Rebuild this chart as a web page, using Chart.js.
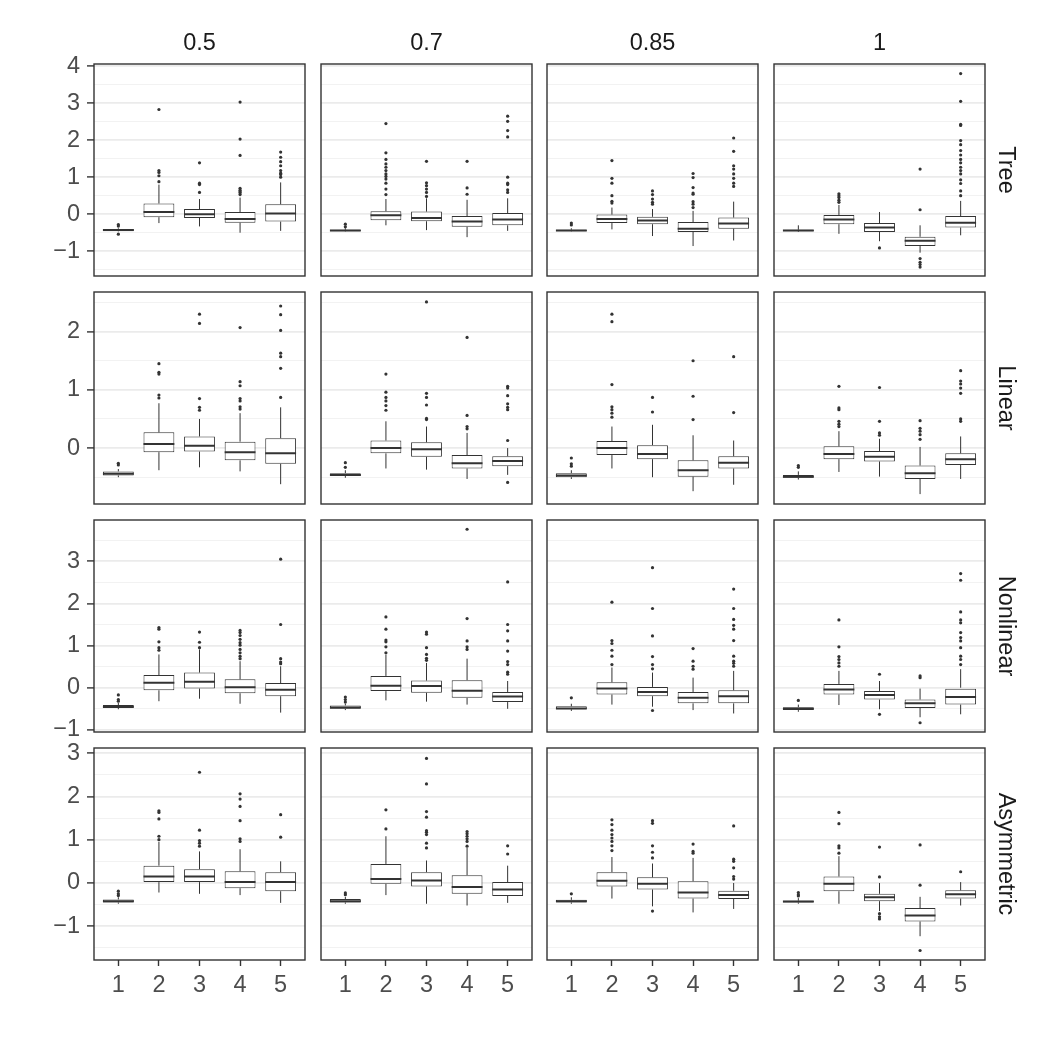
<!DOCTYPE html>
<html>
<head>
<meta charset="utf-8">
<script src="https://cdn.jsdelivr.net/npm/chart.js@4.4.1/dist/chart.umd.min.js"></script>
<style>
  html, body { margin: 0; padding: 0; background: #fff; }
  #wrap { position: relative; width: 1050px; height: 1050px; overflow: hidden;
          font-family: "Liberation Sans", Arial, Helvetica, sans-serif; }
  #wrap canvas { position: absolute; }
  .strip { position: absolute; font-size: 23.5px; line-height: 24px; height: 24px;
           color: #1a1a1a; text-align: center; white-space: nowrap; }
</style>
</head>
<body>
<div id="wrap"></div>
<script>
'use strict';

// ── Data ─────────────────────────────────────────────────────────────────────

const alphas = ['0.5', '0.7', '0.85', '1'];
const models = ['Tree', 'Linear', 'Nonlinear', 'Asymmetric'];
const groups = [1, 2, 3, 4, 5];

// each stat array: one row per column (0.5, 0.7, 0.85, 1), one value per group 1..5

const treeRange = [-1.67, 4.06];
const treeMajor = [-1, 0, 1, 2, 3, 4];
const treeMinor = [-1.5, -0.5, 0.5, 1.5, 2.5, 3.5];
const treeLow = [
  [-0.47, -0.24, -0.33, -0.50, -0.45],
  [-0.47, -0.30, -0.43, -0.62, -0.45],
  [-0.47, -0.41, -0.59, -0.86, -0.71],
  [-0.48, -0.53, -0.73, -1.04, -0.57],
];
const treeQ1 = [
  [-0.46, -0.08, -0.10, -0.23, -0.20],
  [-0.46, -0.16, -0.19, -0.34, -0.30],
  [-0.46, -0.24, -0.27, -0.48, -0.39],
  [-0.46, -0.27, -0.48, -0.86, -0.36],
];
const treeMed = [
  [-0.43, 0.06, 0.00, -0.13, 0.02],
  [-0.44, -0.03, -0.10, -0.20, -0.14],
  [-0.44, -0.13, -0.17, -0.39, -0.25],
  [-0.44, -0.14, -0.36, -0.72, -0.23],
];
const treeQ3 = [
  [-0.40, 0.29, 0.14, 0.06, 0.27],
  [-0.42, 0.08, 0.07, -0.05, 0.03],
  [-0.42, -0.01, -0.07, -0.21, -0.09],
  [-0.42, -0.02, -0.24, -0.61, -0.05],
];
const treeHigh = [
  [-0.38, 0.80, 0.41, 0.45, 0.86],
  [-0.38, 0.41, 0.43, 0.39, 0.43],
  [-0.38, 0.18, 0.14, 0.09, 0.34],
  [-0.30, 0.25, 0.06, -0.30, 0.36],
];
const treeOut = [
  [[-0.54, -0.32, -0.28], [0.88, 1.04, 1.13, 1.18, 2.83], [0.59, 0.80, 0.84, 1.39],
   [0.53, 0.58, 0.61, 0.65, 0.70, 1.59, 2.03, 3.03], [1.00, 1.07, 1.11, 1.18, 1.31, 1.42, 1.54, 1.68]],
  [[-0.34, -0.27], [0.53, 0.68, 0.84, 0.95, 1.02, 1.09, 1.18, 1.27, 1.36, 1.48, 1.66, 2.45],
   [0.48, 0.59, 0.68, 0.77, 0.85, 1.43], [0.54, 0.71, 1.43],
   [0.59, 0.66, 0.80, 0.84, 1.00, 2.09, 2.26, 2.51, 2.65]],
  [[-0.29, -0.24], [0.30, 0.35, 0.50, 0.84, 0.97, 1.45], [0.27, 0.32, 0.41, 0.53, 0.63],
   [0.18, 0.27, 0.34, 0.54, 0.57, 0.72, 0.99, 1.10], [0.75, 0.84, 0.97, 1.09, 1.22, 1.31, 1.70, 2.06]],
  [[], [0.32, 0.38, 0.45, 0.50, 0.55], [-0.91], [0.12, 1.22, -1.20, -1.30, -1.36, -1.43],
   [0.50, 0.63, 0.83, 0.93, 1.09, 1.18, 1.27, 1.39, 1.48, 1.60, 1.72, 1.88, 1.99, 2.40, 2.43, 3.05, 3.80]],
];

const linearRange = [-0.96, 2.68];
const linearMajor = [0, 1, 2];
const linearMinor = [-0.5, 0.5, 1.5, 2.5];
const linearLow = [
  [-0.50, -0.38, -0.33, -0.40, -0.62],
  [-0.51, -0.35, -0.37, -0.53, -0.46],
  [-0.53, -0.35, -0.50, -0.74, -0.63],
  [-0.54, -0.41, -0.49, -0.79, -0.53],
];
const linearQ1 = [
  [-0.47, -0.07, -0.06, -0.21, -0.27],
  [-0.48, -0.09, -0.15, -0.35, -0.31],
  [-0.50, -0.12, -0.19, -0.49, -0.35],
  [-0.51, -0.19, -0.23, -0.53, -0.29],
];
const linearMed = [
  [-0.44, 0.07, 0.04, -0.07, -0.09],
  [-0.46, 0.00, -0.02, -0.26, -0.22],
  [-0.47, 0.00, -0.10, -0.38, -0.25],
  [-0.49, -0.10, -0.15, -0.43, -0.19],
];
const linearQ3 = [
  [-0.40, 0.27, 0.20, 0.11, 0.17],
  [-0.43, 0.13, 0.10, -0.12, -0.14],
  [-0.43, 0.12, 0.05, -0.21, -0.14],
  [-0.46, 0.03, -0.05, -0.30, -0.09],
];
const linearHigh = [
  [-0.36, 0.77, 0.50, 0.60, 0.70],
  [-0.38, 0.46, 0.37, 0.26, 0.00],
  [-0.38, 0.37, 0.40, 0.22, 0.13],
  [-0.40, 0.29, 0.16, 0.02, 0.20],
];
const linearOut = [
  [[-0.29, -0.26], [0.86, 0.91, 1.27, 1.30, 1.45], [0.65, 0.70, 0.85, 2.14, 2.30],
   [0.67, 0.71, 0.81, 0.85, 1.07, 1.14, 2.07], [0.87, 1.37, 1.57, 1.63, 2.02, 2.29, 2.44]],
  [[-0.33, -0.25], [0.65, 0.73, 0.81, 0.87, 0.96, 1.27], [0.49, 0.51, 0.74, 0.87, 0.94, 2.51],
   [0.33, 0.37, 0.56, 1.90], [-0.59, 0.13, 0.66, 0.70, 0.76, 0.90, 1.03, 1.06]],
  [[-0.31, -0.27, -0.17], [0.53, 0.60, 0.66, 0.71, 1.09, 2.17, 2.30], [0.62, 0.87],
   [0.49, 0.89, 1.50], [0.61, 1.57]],
  [[-0.33, -0.30], [0.37, 0.41, 0.46, 0.66, 0.69, 1.06], [0.22, 0.26, 0.46, 1.04],
   [0.15, 0.23, 0.29, 0.34, 0.47], [0.46, 0.50, 0.94, 1.03, 1.10, 1.15, 1.33]],
];

const nonlinRange = [-1.05, 3.98];
const nonlinMajor = [-1, 0, 1, 2, 3];
const nonlinMinor = [-0.5, 0.5, 1.5, 2.5, 3.5];
const nonlinLow = [
  [-0.51, -0.32, -0.26, -0.38, -0.59],
  [-0.53, -0.30, -0.33, -0.40, -0.50],
  [-0.55, -0.40, -0.45, -0.53, -0.61],
  [-0.57, -0.41, -0.51, -0.70, -0.63],
];
const nonlinQ1 = [
  [-0.48, -0.06, -0.02, -0.13, -0.20],
  [-0.50, -0.08, -0.12, -0.24, -0.34],
  [-0.51, -0.16, -0.20, -0.37, -0.37],
  [-0.53, -0.16, -0.28, -0.48, -0.40],
];
const nonlinMed = [
  [-0.45, 0.12, 0.14, 0.01, -0.05],
  [-0.47, 0.05, 0.04, -0.07, -0.21],
  [-0.49, -0.02, -0.10, -0.24, -0.20],
  [-0.50, -0.04, -0.17, -0.37, -0.22],
];
const nonlinQ3 = [
  [-0.41, 0.30, 0.36, 0.20, 0.11],
  [-0.42, 0.28, 0.17, 0.18, -0.10],
  [-0.44, 0.13, 0.02, -0.10, -0.06],
  [-0.46, 0.09, -0.08, -0.28, 0.00],
];
const nonlinHigh = [
  [-0.36, 0.79, 0.91, 0.63, 0.51],
  [-0.38, 0.79, 0.59, 0.69, 0.16],
  [-0.38, 0.48, 0.36, 0.24, 0.40],
  [-0.40, 0.40, 0.16, -0.02, 0.44],
];
const nonlinOut = [
  [[-0.32, -0.28, -0.17], [0.89, 0.95, 1.09, 1.39, 1.43], [0.95, 1.08, 1.32],
   [0.69, 0.75, 0.83, 0.91, 1.01, 1.07, 1.15, 1.24, 1.31, 1.36], [0.57, 0.61, 0.69, 1.50, 3.05]],
  [[-0.34, -0.28, -0.22], [0.83, 0.97, 1.09, 1.13, 1.39, 1.68], [0.65, 0.70, 0.79, 0.95, 1.27, 1.32],
   [0.91, 0.97, 1.11, 1.64, 3.76], [0.32, 0.37, 0.55, 0.62, 0.87, 1.11, 1.35, 1.50, 2.51]],
  [[-0.24], [0.55, 0.75, 0.89, 1.05, 1.12, 2.03], [-0.54, 0.45, 0.55, 0.74, 1.23, 1.88, 2.85],
   [0.44, 0.51, 0.63, 0.93], [0.51, 0.58, 0.63, 0.75, 1.12, 1.39, 1.48, 1.62, 1.88, 2.34]],
  [[-0.30], [0.51, 0.59, 0.67, 0.74, 0.97, 1.61], [0.32, -0.63], [0.24, 0.28, -0.83],
   [0.55, 0.67, 0.75, 0.95, 1.11, 1.19, 1.31, 1.54, 1.61, 1.80, 2.55, 2.71]],
];

const asymRange = [-1.78, 3.12];
const asymMajor = [-1, 0, 1, 2, 3];
const asymMinor = [-1.5, -0.5, 0.5, 1.5, 2.5];
const asymLow = [
  [-0.48, -0.22, -0.25, -0.28, -0.46],
  [-0.48, -0.28, -0.48, -0.52, -0.46],
  [-0.48, -0.36, -0.54, -0.68, -0.60],
  [-0.48, -0.48, -0.65, -1.23, -0.52],
];
const asymQ1 = [
  [-0.45, 0.02, 0.02, -0.12, -0.19],
  [-0.45, -0.02, -0.08, -0.25, -0.30],
  [-0.45, -0.08, -0.15, -0.36, -0.37],
  [-0.45, -0.19, -0.42, -0.89, -0.36],
];
const asymMed = [
  [-0.42, 0.15, 0.15, 0.02, 0.02],
  [-0.42, 0.09, 0.06, -0.09, -0.15],
  [-0.42, 0.05, -0.02, -0.22, -0.28],
  [-0.43, -0.02, -0.33, -0.75, -0.26],
];
const asymQ3 = [
  [-0.38, 0.40, 0.32, 0.27, 0.25],
  [-0.37, 0.44, 0.25, 0.18, 0.02],
  [-0.39, 0.25, 0.13, 0.04, -0.18],
  [-0.41, 0.15, -0.25, -0.58, -0.17],
];
const asymHigh = [
  [-0.33, 0.95, 0.73, 0.78, 0.50],
  [-0.32, 1.08, 0.52, 0.81, 0.40],
  [-0.33, 0.60, 0.45, 0.58, 0.00],
  [-0.35, 0.62, 0.00, -0.32, 0.02],
];
const asymOut = [
  [[-0.29, -0.25, -0.19], [1.00, 1.08, 1.48, 1.63, 1.67], [0.85, 0.92, 0.98, 1.22, 2.56],
   [0.96, 1.02, 1.44, 1.77, 1.94, 2.06], [1.06, 1.58]],
  [[-0.27, -0.23], [1.25, 1.69], [0.81, 0.92, 1.12, 1.17, 1.21, 1.52, 1.65, 2.29, 2.88],
   [0.85, 0.96, 1.02, 1.08, 1.14, 1.19], [0.67, 0.86]],
  [[-0.25], [0.75, 0.86, 0.96, 1.04, 1.12, 1.22, 1.35, 1.46], [-0.65, 0.58, 0.71, 0.86, 1.38, 1.44],
   [0.69, 0.73, 0.90], [0.09, 0.15, 0.35, 0.50, 0.55, 1.32]],
  [[-0.30, -0.27, -0.22], [0.69, 0.81, 0.86, 1.37, 1.63], [0.14, 0.83, -0.71, -0.78, -0.83],
   [-0.05, 0.88, -1.56], [0.26]],
];

const rows = [
  { range: treeRange, major: treeMajor, minor: treeMinor,
    low: treeLow, q1: treeQ1, med: treeMed, q3: treeQ3, high: treeHigh, out: treeOut },
  { range: linearRange, major: linearMajor, minor: linearMinor,
    low: linearLow, q1: linearQ1, med: linearMed, q3: linearQ3, high: linearHigh, out: linearOut },
  { range: nonlinRange, major: nonlinMajor, minor: nonlinMinor,
    low: nonlinLow, q1: nonlinQ1, med: nonlinMed, q3: nonlinQ3, high: nonlinHigh, out: nonlinOut },
  { range: asymRange, major: asymMajor, minor: asymMinor,
    low: asymLow, q1: asymQ1, med: asymMed, q3: asymQ3, high: asymHigh, out: asymOut },
];

// ── Layout ───────────────────────────────────────────────────────────────────

const PANEL_W   = 211;
const PANEL_H   = 212;
const LEFTS     = [94, 321, 547, 774];
const TOPS      = [64, 292, 520, 748];
const PAD       = 16;
const Y_AXIS_W  = 66;
const X_AXIS_H  = 48;
const BOX_W     = 0.76;
const FONT      = '"Liberation Sans", Arial, Helvetica, sans-serif';
const FONT_SIZE = 23.5;
const INK       = '#333333';
const TEXT      = '#4d4d4d';

const wrap = document.getElementById('wrap');
Chart.defaults.font.family = FONT;

const panelBorder = {
  id: 'panelBorder',
  afterDraw(chart) {
    const { ctx, chartArea: a } = chart;
    ctx.save();
    ctx.strokeStyle = INK;
    ctx.lineWidth = 1.4;
    ctx.strokeRect(a.left, a.top, a.right - a.left, a.bottom - a.top);
    ctx.restore();
  },
};

const fmt = v => (v < 0 ? '\u2212' + Math.abs(v) : String(v));

// ── Panels ───────────────────────────────────────────────────────────────────

function makePanel(r, c) {
  const row   = rows[r];
  const first = c === 0;
  const last  = r === rows.length - 1;
  const axisW = first ? Y_AXIS_W : 0;
  const axisH = last ? X_AXIS_H : 0;

  const canvas = document.createElement('canvas');
  canvas.width  = PANEL_W + axisW + 2 * PAD;
  canvas.height = PANEL_H + axisH + 2 * PAD;
  canvas.style.left = (LEFTS[c] - axisW - PAD) + 'px';
  canvas.style.top  = (TOPS[r] - PAD) + 'px';
  wrap.appendChild(canvas);

  const boxes = [], whiskers = [], medians = [], points = [];
  groups.forEach((g, i) => {
    const lo = row.low[c][i], q1 = row.q1[c][i], md = row.med[c][i];
    const q3 = row.q3[c][i], hi = row.high[c][i];
    boxes.push({ x: g, y: [q1, q3] });
    whiskers.push({ x: g, y: lo }, { x: g, y: q1 }, { x: g, y: null },
                  { x: g, y: q3 }, { x: g, y: hi }, { x: g, y: null });
    medians.push({ x: g - BOX_W / 2, y: md }, { x: g + BOX_W / 2, y: md }, { x: g, y: null });
    row.out[c][i].forEach(v => points.push({ x: g, y: v }));
  });

  const yTicks  = row.major.concat(row.minor).sort((a, b) => a - b);
  const isMajor = v => row.major.includes(v);

  new Chart(canvas.getContext('2d'), {
    type: 'bar',
    data: {
      datasets: [
        { type: 'scatter', data: points, order: 0,
          pointRadius: 1.6, pointBackgroundColor: INK, pointBorderWidth: 0 },
        { type: 'line', data: medians, order: 1, borderColor: INK, borderWidth: 2,
          pointRadius: 0, spanGaps: false, fill: false, borderCapStyle: 'butt' },
        { type: 'bar', data: boxes, order: 2, backgroundColor: '#ffffff',
          borderColor: INK, borderWidth: 1, borderSkipped: false,
          barPercentage: BOX_W, categoryPercentage: 1 },
        { type: 'line', data: whiskers, order: 3, borderColor: INK, borderWidth: 1,
          pointRadius: 0, spanGaps: false, fill: false, borderCapStyle: 'butt' },
      ],
    },
    options: {
      responsive: false,
      animation: false,
      events: [],
      layout: { padding: PAD },
      plugins: { legend: { display: false }, tooltip: { enabled: false } },
      scales: {
        x: {
          type: 'linear', min: 0.4, max: 5.6, offset: false,
          display: last,
          afterBuildTicks: s => { s.ticks = groups.map(v => ({ value: v })); },
          afterFit: s => { s.height = axisH; s.paddingLeft = 0; s.paddingRight = 0; },
          border: { display: false },
          grid: { offset: false, drawOnChartArea: false, drawTicks: true,
                  tickLength: 6, tickWidth: 1.4, tickColor: INK },
          ticks: { autoSkip: false, maxRotation: 0, padding: 5, color: TEXT,
                   font: { family: FONT, size: FONT_SIZE } },
        },
        y: {
          type: 'linear', min: row.range[0], max: row.range[1],
          afterBuildTicks: s => { s.ticks = yTicks.map(v => ({ value: v })); },
          afterFit: s => { s.width = axisW; s.paddingTop = 0; s.paddingBottom = 0; },
          border: { display: false },
          grid: {
            color: ctx => (isMajor(ctx.tick.value) ? '#ebebeb' : '#f1f1f1'),
            lineWidth: ctx => (isMajor(ctx.tick.value) ? 1.8 : 0.9),
            drawTicks: first,
            tickLength: 7,
            tickWidth: 1.4,
            tickColor: ctx => (isMajor(ctx.tick.value) ? INK : 'rgba(0,0,0,0)'),
          },
          ticks: {
            display: first, autoSkip: false, padding: 7, color: TEXT,
            font: { family: FONT, size: FONT_SIZE },
            callback: v => (isMajor(v) ? fmt(v) : ''),
          },
        },
      },
    },
    plugins: [panelBorder],
  });
}

rows.forEach((row, r) => alphas.forEach((a, c) => makePanel(r, c)));

// ── Strip labels ─────────────────────────────────────────────────────────────

alphas.forEach((label, c) => {
  const d = document.createElement('div');
  d.className = 'strip';
  d.textContent = label;
  d.style.left  = LEFTS[c] + 'px';
  d.style.width = PANEL_W + 'px';
  d.style.top   = '30px';
  wrap.appendChild(d);
});

models.forEach((label, r) => {
  const d = document.createElement('div');
  d.className = 'strip';
  d.textContent = label;
  d.style.width = PANEL_H + 'px';
  d.style.left  = (1006.5 - PANEL_H / 2) + 'px';
  d.style.top   = (TOPS[r] + PANEL_H / 2 - 12) + 'px';
  d.style.transform = 'rotate(90deg)';
  wrap.appendChild(d);
});
</script>
</body>
</html>
